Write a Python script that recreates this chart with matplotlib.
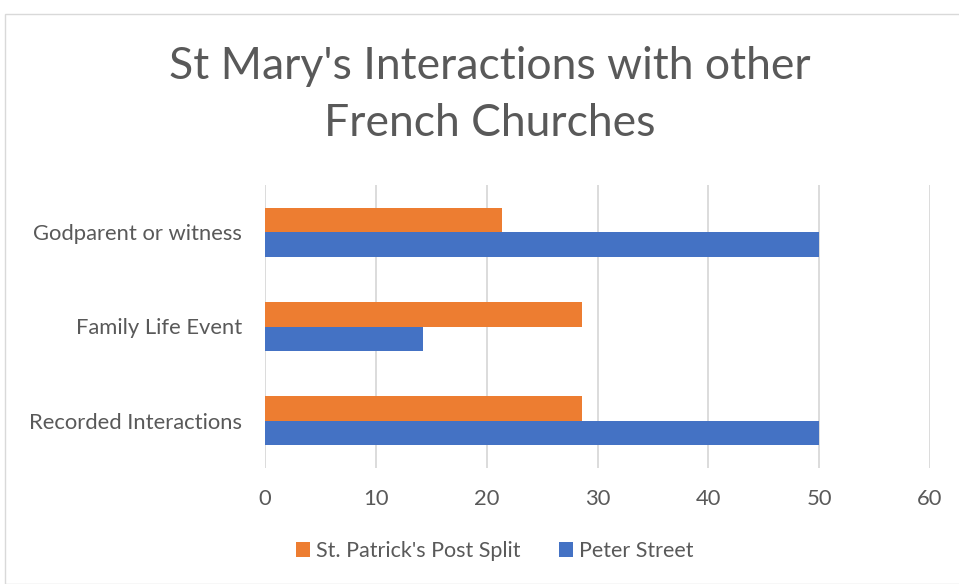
import matplotlib.pyplot as plt
from matplotlib.patches import Rectangle
import numpy as np

categories = ["Recorded Interactions", "Family Life Event", "Godparent or witness"]
st_patrick = [28.6, 28.6, 21.4]
peter_street = [50, 14.3, 50]
series_names = ["St. Patrick's Post Split", "Peter Street"]

plt.rcParams['font.family'] = ['Lato', 'DejaVu Sans']
text_col = "#595959"

fig = plt.figure(figsize=(9.59, 5.84), dpi=100)
fig.patches.append(Rectangle((5 / 959, 0), 2, 1 - 14 / 584, transform=fig.transFigure,
                             fill=False, edgecolor="#d9d9d9", lw=1))

ax = fig.add_axes([265 / 959, 1 - 468 / 584, 665 / 959, 283 / 584])
y = np.arange(len(categories))
h = 0.26
ax.barh(y + h / 2, st_patrick, height=h, color="#ED7D31", label=series_names[0], zorder=3)
ax.barh(y - h / 2, peter_street, height=h, color="#4472C4", label=series_names[1], zorder=3)

ax.set_xlim(0, 60)
ax.set_ylim(-0.5, 2.5)
ax.set_xticks(range(0, 61, 10))
ax.set_yticks(y)
ax.set_yticklabels(categories)
ax.tick_params(axis="both", length=0, labelsize=15.8, colors=text_col)
ax.tick_params(axis="y", pad=16.5)
ax.tick_params(axis="x", pad=15)
ax.grid(axis="x", color="#d9d9d9", lw=1.3, zorder=0)
for s in ax.spines.values():
    s.set_visible(False)

fig.text(490 / 959, 1 - 95 / 584, "St Mary's Interactions with other\nFrench Churches",
         ha="center", va="center", fontsize=32, color=text_col, linespacing=1.48)

leg = fig.legend(loc="center", bbox_to_anchor=(495 / 959, 1 - 551 / 584), ncol=2,
                 frameon=False, fontsize=15.5, handlelength=0.65, handleheight=0.65,
                 handletextpad=0.28, columnspacing=1.8)
for t in leg.get_texts():
    t.set_color(text_col)

fig.savefig("out.png", dpi=100)
